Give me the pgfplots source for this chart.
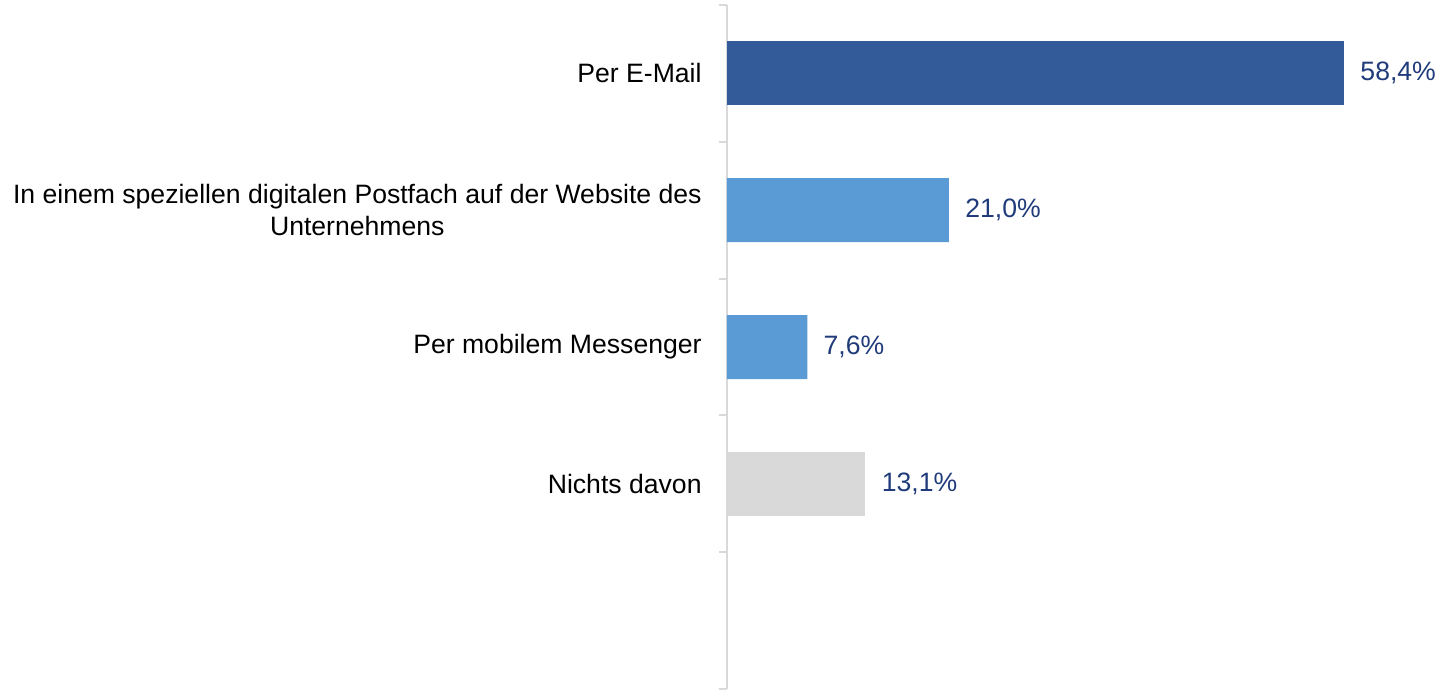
\documentclass[border=0pt]{standalone}
\usepackage{pgfplots}
\pgfplotsset{compat=1.18}
\usepackage{fontspec}
\setmainfont{Liberation Sans}
\definecolor{darkbar}{HTML}{335A99}
\definecolor{lightbar}{HTML}{5B9BD5}
\definecolor{greybar}{HTML}{D9D9D9}
\definecolor{axisgrey}{HTML}{D9D9D9}
\definecolor{valblue}{HTML}{1F3B7A}
\begin{document}
\begin{tikzpicture}
\begin{axis}[
  name=ax,
  scale only axis,
  width=343.4pt, height=342pt,
  xmin=0, xmax=65,
  ymin=-0.5, ymax=4.5,
  y dir=reverse,
  axis x line=none,
  axis y line*=left,
  axis line style={axisgrey, line width=1pt},
  xbar, bar width=32pt, bar shift=0pt,
  ytick={0,1,2,3},
  yticklabels={Per E-Mail,{In einem speziellen digitalen Postfach auf der Website des\\Unternehmens},Per mobilem Messenger,Nichts davon},
  major tick length=0pt,
  minor ytick={-0.5,0.5,1.5,2.5,3.5,4.5},
  minor tick length=4pt,
  tick align=outside,
  minor tick style={axisgrey, line width=1pt},
  yticklabel style={font=\fontsize{13.3}{15.8}\selectfont, align=center, inner sep=0pt, xshift=-12.5pt},
  clip=false,
  nodes near coords={\pgfmathprintnumber[fixed,fixed zerofill,precision=1,use comma,assume math mode=true]{\pgfplotspointmeta}\%},
  nodes near coords align=horizontal,
  every node near coord/.append style={font=\fontsize{13.3}{15.8}\selectfont, color=valblue, anchor=west, inner sep=0pt, xshift=8pt},
]
\addplot[fill=darkbar, draw=none] coordinates {(58.4,0)};
\addplot[fill=lightbar, draw=none] coordinates {(21.0,1) (7.6,2)};
\addplot[fill=greybar, draw=none] coordinates {(13.1,3)};
\end{axis}
\pgfresetboundingbox
\path (ax.south west) ++(-363.5pt,-0.5pt) rectangle ++(719.5pt,345pt);
\end{tikzpicture}
\end{document}
